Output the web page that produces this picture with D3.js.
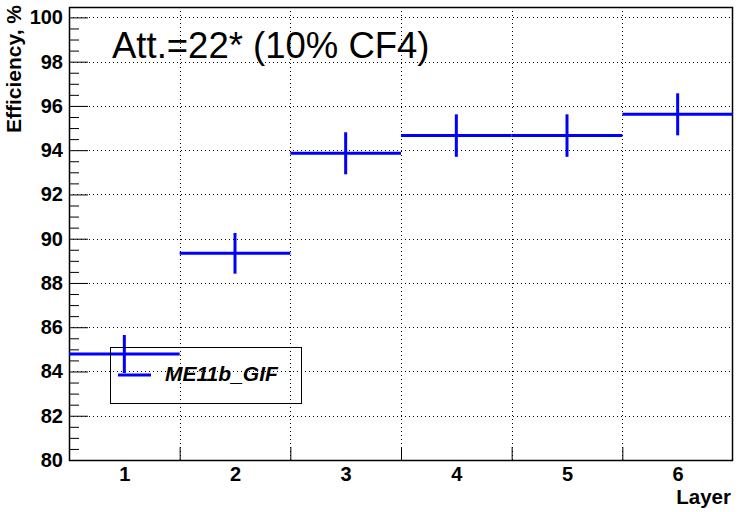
<!DOCTYPE html>
<html><head><meta charset="utf-8">
<script src="https://cdn.jsdelivr.net/npm/d3@7"></script>
<style>body{margin:0;background:#fff}svg{display:block}text{font-family:"Liberation Sans",Arial,sans-serif}</style>
</head><body>
<script>
const layers = [1, 2, 3, 4, 5, 6];
const efficiency = [84.79, 89.34, 93.86, 94.66, 94.66, 95.62];
const errors = [0.86, 0.92, 0.95, 0.96, 0.96, 0.95];
const yTicks = [80, 82, 84, 86, 88, 90, 92, 94, 96, 98, 100];
const seriesName = "ME11b_GIF";
const titleText = "Att.=22* (10% CF4)";

const W = 740, H = 512;
const L = 69, R = 733, T = 7, B = 460;
const FONT = "Liberation Sans, Arial, sans-serif";
const svg = d3.select("body").append("svg").attr("width", W).attr("height", H);

const x = d3.scaleLinear().domain([0.5, 6.5]).range([L, R]);
const y = d3.scaleLinear().domain([80, 100.47]).range([B, T]);
const edges = d3.range(0.5, 7, 1);
const minor = d3.range(80, 100.5, 0.5).filter(v => v % 2 !== 0);

// grid
const grid = svg.append("g").attr("stroke", "#000").attr("stroke-width", 1).attr("stroke-dasharray", "1,3");
grid.selectAll(".gy").data(yTicks.slice(1)).join("line")
  .attr("x1", L).attr("x2", R).attr("y1", d => Math.round(y(d)) + 0.5).attr("y2", d => Math.round(y(d)) + 0.5);
grid.selectAll(".gx").data(edges.slice(1, -1)).join("line")
  .attr("x1", d => Math.round(x(d)) + 0.5).attr("x2", d => Math.round(x(d)) + 0.5).attr("y1", T).attr("y2", B);

// y axis: major ticks, minor ticks, labels
const gyt = svg.append("g").attr("transform", `translate(${L},0)`)
  .call(d3.axisLeft(y).tickValues(yTicks).tickSize(-19).tickFormat(""));
gyt.select(".domain").remove();
const gym = svg.append("g").attr("transform", `translate(${L},0)`)
  .call(d3.axisLeft(y).tickValues(minor).tickSize(-10).tickFormat(""));
gym.select(".domain").remove();
const gyl = svg.append("g").attr("transform", `translate(${L},0)`)
  .call(d3.axisLeft(y).tickValues(yTicks).tickSize(0).tickPadding(6).tickFormat(d3.format("d")));
gyl.select(".domain").remove();
gyl.selectAll("text").attr("font-size", 20).attr("font-weight", "bold").attr("fill", "#000").attr("font-family", FONT);

// x axis ticks at bin edges, labels at bin centres
const gx = svg.append("g").attr("transform", `translate(0,${B})`)
  .call(d3.axisBottom(x).tickValues(edges.slice(1, -1)).tickSize(-13).tickFormat(""));
gx.select(".domain").remove();
const gxl = svg.append("g").attr("transform", `translate(0,${B})`)
  .call(d3.axisBottom(x).tickValues(layers).tickSize(0).tickPadding(7).tickFormat(d3.format("d")));
gxl.select(".domain").remove();
gxl.selectAll("text").attr("font-size", 20).attr("font-weight", "bold").attr("fill", "#000").attr("font-family", FONT);

// frame
svg.append("rect").attr("x", L + 0.5).attr("y", T + 0.5).attr("width", R - L - 1).attr("height", B - T)
  .attr("fill", "none").attr("stroke", "#000").attr("stroke-width", 1.5);

// histogram
const hg = svg.append("g").attr("stroke", "#0000ff").attr("stroke-width", 3);
hg.selectAll(".h").data(layers).join("line")
  .attr("x1", d => x(d - 0.5)).attr("x2", d => x(d + 0.5))
  .attr("y1", (d, i) => y(efficiency[i])).attr("y2", (d, i) => y(efficiency[i]));
hg.selectAll(".v").data(layers).join("line")
  .attr("x1", d => x(d)).attr("x2", d => x(d))
  .attr("y1", (d, i) => y(efficiency[i] + errors[i])).attr("y2", (d, i) => y(efficiency[i] - errors[i]));

// legend
svg.append("rect").attr("x", 110.5).attr("y", 347.5).attr("width", 191).attr("height", 56)
  .attr("fill", "none").attr("stroke", "#000").attr("stroke-width", 1);
svg.append("line").attr("x1", 118).attr("x2", 151).attr("y1", 375).attr("y2", 375)
  .attr("stroke", "#0000ff").attr("stroke-width", 3);
svg.append("text").attr("x", 165).attr("y", 381).attr("font-size", 21).attr("font-weight", "bold")
  .attr("font-style", "italic").text(seriesName);

// title
svg.append("text").attr("x", 112).attr("y", 58).attr("font-size", 36.5).text(titleText);

// axis titles
svg.append("text").attr("transform", "translate(20.5,5) rotate(-90)").attr("text-anchor", "end")
  .attr("font-size", 21).attr("font-weight", "bold").text("Efficiency, %");
svg.append("text").attr("x", 731).attr("y", 503.5).attr("text-anchor", "end")
  .attr("font-size", 20.5).attr("font-weight", "bold").text("Layer");
</script>
</body></html>
